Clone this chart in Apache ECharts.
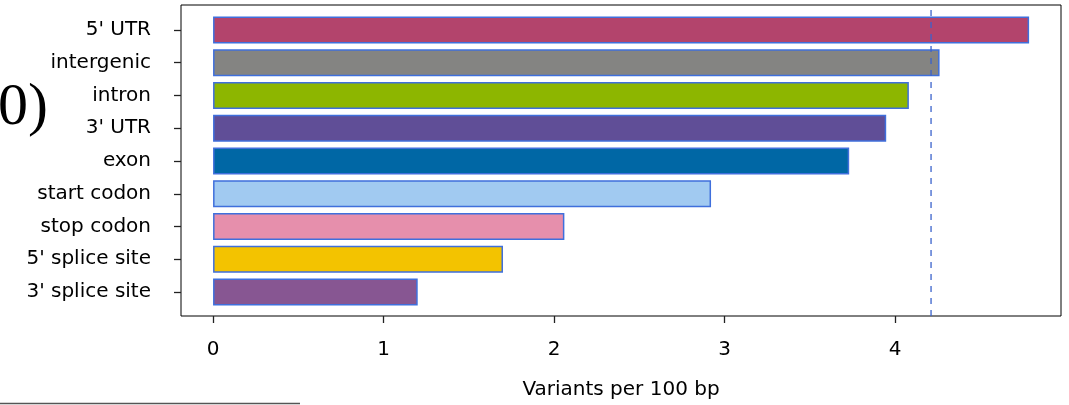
<!DOCTYPE html>
<html>
<head>
<meta charset="utf-8">
<script src="https://cdn.jsdelivr.net/npm/echarts@6/dist/echarts.min.js"></script>
<style>
  html, body { margin: 0; padding: 0; background: #fff; }
  #chart { width: 1069px; height: 405px; }
</style>
</head>
<body>
<div id="chart"></div>
<script>
  // top to bottom
  const categories = ["5' UTR", 'intergenic', 'intron', "3' UTR", 'exon',
    'start codon', 'stop codon', "5' splice site", "3' splice site"];
  const values = [4.785, 4.26, 4.08, 3.947, 3.73, 2.92, 2.06, 1.70, 1.20];
  const barColors = ['#B3446C', '#848482', '#8DB600', '#604E97', '#0067A5',
    '#A1CAF1', '#E68FAC', '#F3C300', '#875692'];
  const xTicks = [0, 1, 2, 3, 4];
  const threshold = 4.21;

  const xMin = -0.188, xMax = 4.972;
  const font = 'DejaVu Sans';

  let myChart = echarts.init(document.getElementById('chart'));

  myChart.setOption({
    animation: false,
    backgroundColor: '#fff',
    grid: [
      // bars
      { left: 181, right: 8, top: 13.6, height: 294.8 },
      // frame + x axis
      { left: 181, right: 8, top: 5, bottom: 88, show: true,
        borderColor: '#000', borderWidth: 1, backgroundColor: 'transparent' }
    ],
    xAxis: [
      { type: 'value', gridIndex: 0, min: xMin, max: xMax, show: false },
      {
        type: 'value', gridIndex: 1, min: xMin, max: xMax,
        name: 'Variants per 100 bp',
        nameLocation: 'middle',
        nameGap: 64,
        nameTextStyle: { fontFamily: font, fontSize: 20, color: '#000' },
        axisLine: { show: false },
        axisTick: { show: true, length: 7, customValues: xTicks,
          lineStyle: { color: '#222', width: 1.3 } },
        axisLabel: { customValues: xTicks, margin: 24,
          fontFamily: font, fontSize: 20, color: '#000' },
        splitLine: { show: false }
      }
    ],
    yAxis: [
      {
        type: 'category', gridIndex: 0, inverse: true,
        data: categories,
        axisLine: { show: false, onZero: false },
        axisTick: { show: true, alignWithLabel: true, length: 7,
          lineStyle: { color: '#222', width: 1.3 } },
        axisLabel: { margin: 30, fontFamily: font, fontSize: 20, color: '#000' },
        splitLine: { show: false }
      },
      { type: 'value', gridIndex: 1, min: 0, max: 1, show: false }
    ],
    series: [
      {
        type: 'bar',
        xAxisIndex: 0,
        yAxisIndex: 0,
        barWidth: 27,
        data: values.map((v, i) => ({
          value: v,
          itemStyle: { color: barColors[i] }
        })),
        itemStyle: { borderColor: '#3f6fdc', borderWidth: 1.5 }
      },
      {
        type: 'line',
        xAxisIndex: 1,
        yAxisIndex: 1,
        symbol: 'none',
        silent: true,
        data: [[threshold, 0], [threshold, 1]],
        lineStyle: { color: '#3a62cc', width: 1.3, type: [6, 6] }
      }
    ],
    graphic: [
      {
        type: 'text', left: -2, top: 78,
        style: { text: '0)', font: '60px "Liberation Serif"', fill: '#000' }
      },
      {
        type: 'line',
        shape: { x1: 0, y1: 403.5, x2: 300, y2: 403.5 },
        style: { stroke: '#555', lineWidth: 1.5 }
      }
    ]
  });
</script>
</body>
</html>
